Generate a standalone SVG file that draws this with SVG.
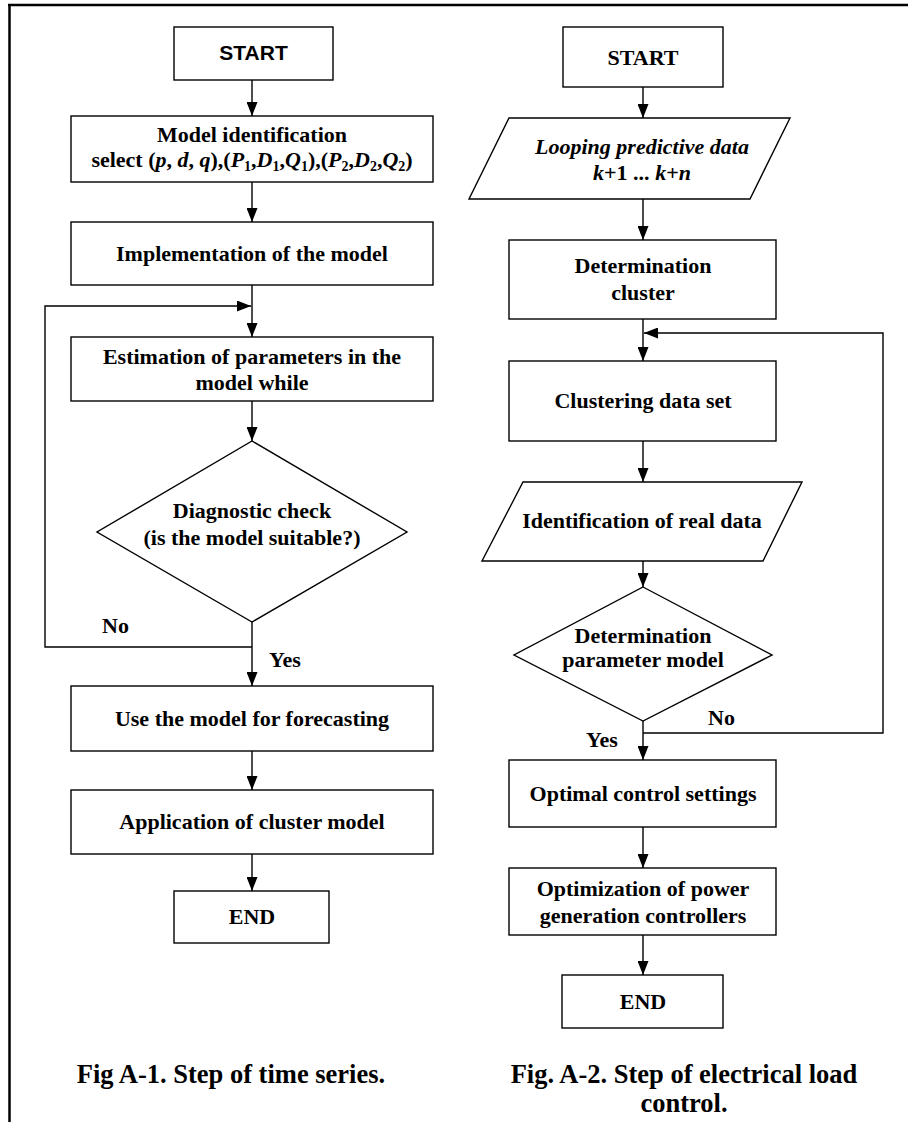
<svg xmlns="http://www.w3.org/2000/svg" width="908" height="1122" viewBox="0 0 908 1122">
<style>
.box{fill:#fff;stroke:#000;stroke-width:1.4}
.ln{fill:none;stroke:#000;stroke-width:1.4}
.t{font-family:"Liberation Serif","Times New Roman",serif;font-weight:bold;font-size:22px;text-anchor:middle;fill:#000}
.cap{font-family:"Liberation Serif","Times New Roman",serif;font-weight:bold;font-size:26.5px;text-anchor:middle;fill:#000}
.lbl{font-family:"Liberation Serif","Times New Roman",serif;font-weight:bold;font-size:22px;fill:#000}
.i{font-style:italic}
</style>
<defs>
<marker id="ah" markerUnits="userSpaceOnUse" markerWidth="15" markerHeight="11" refX="14" refY="5.5" orient="auto">
<path d="M0,0 L14,5.5 L0,11 z" fill="#000"/>
</marker>
</defs>
<rect width="908" height="1122" fill="#fff"/>
<g id="frame">
<line x1="9.5" y1="5" x2="9.5" y2="1122" stroke="#000" stroke-width="2.5"/>
<line x1="8" y1="5" x2="908" y2="5" stroke="#000" stroke-width="2.5"/>
</g>
<g id="connectors">
<line class="ln" x1="252" y1="80" x2="252" y2="116" marker-end="url(#ah)"/>
<line class="ln" x1="252" y1="182" x2="252" y2="222" marker-end="url(#ah)"/>
<line class="ln" x1="252" y1="285" x2="252" y2="337" marker-end="url(#ah)"/>
<line class="ln" x1="252" y1="401" x2="252" y2="441" marker-end="url(#ah)"/>
<line class="ln" x1="252" y1="622" x2="252" y2="686" marker-end="url(#ah)"/>
<path class="ln" d="M252,647 H45 V306 H251" marker-end="url(#ah)"/>
<line class="ln" x1="252" y1="751" x2="252" y2="790" marker-end="url(#ah)"/>
<line class="ln" x1="252" y1="854" x2="252" y2="891" marker-end="url(#ah)"/>
<line class="ln" x1="643" y1="87" x2="643" y2="118" marker-end="url(#ah)"/>
<line class="ln" x1="643" y1="199" x2="643" y2="240" marker-end="url(#ah)"/>
<line class="ln" x1="643" y1="319" x2="643" y2="361" marker-end="url(#ah)"/>
<path class="ln" d="M643,733 H883 V333 H644" marker-end="url(#ah)"/>
<line class="ln" x1="643" y1="441" x2="643" y2="482" marker-end="url(#ah)"/>
<line class="ln" x1="643" y1="561" x2="643" y2="587" marker-end="url(#ah)"/>
<line class="ln" x1="643" y1="721" x2="643" y2="760" marker-end="url(#ah)"/>
<line class="ln" x1="643" y1="827" x2="643" y2="868" marker-end="url(#ah)"/>
<line class="ln" x1="643" y1="935" x2="643" y2="975" marker-end="url(#ah)"/>
<text class="lbl" x="102" y="633">No</text>
<text class="lbl" x="269" y="667">Yes</text>
<text class="lbl" x="708" y="725">No</text>
<text class="lbl" x="586" y="747">Yes</text>
</g>
<g id="l-start">
<rect class="box" x="174" y="27" width="159" height="53"/>
<text x="253.5" y="60" font-family="Liberation Sans, Arial, sans-serif" font-weight="bold" font-size="21" text-anchor="middle">START</text>
</g>
<g id="l-model">
<rect class="box" x="71" y="116" width="362" height="66"/>
<text class="t" x="252" y="142">Model identification</text>
<text class="t" x="252" y="167">select (<tspan class="i">p</tspan>, <tspan class="i">d</tspan>, <tspan class="i">q</tspan>),(<tspan class="i">P</tspan><tspan font-size="14" dy="4">1</tspan><tspan dy="-4">,</tspan><tspan class="i">D</tspan><tspan font-size="14" dy="4">1</tspan><tspan dy="-4">,</tspan><tspan class="i">Q</tspan><tspan font-size="14" dy="4">1</tspan><tspan dy="-4">),(</tspan><tspan class="i">P</tspan><tspan font-size="14" dy="4">2</tspan><tspan dy="-4">,</tspan><tspan class="i">D</tspan><tspan font-size="14" dy="4">2</tspan><tspan dy="-4">,</tspan><tspan class="i">Q</tspan><tspan font-size="14" dy="4">2</tspan><tspan dy="-4">)</tspan></text>
</g>
<g id="l-impl">
<rect class="box" x="71" y="222" width="362" height="63"/>
<text class="t" x="252" y="261">Implementation of the model</text>
</g>
<g id="l-est">
<rect class="box" x="71" y="337" width="362" height="64"/>
<text class="t" x="252" y="364">Estimation of parameters in the</text>
<text class="t" x="252" y="390">model while</text>
</g>
<g id="l-diag">
<polygon class="box" points="252,441 407,532 252,622 97,532"/>
<text class="t" x="252" y="518">Diagnostic check</text>
<text class="t" x="252" y="545">(is the model suitable?)</text>
</g>
<g id="l-use">
<rect class="box" x="71" y="686" width="362" height="65"/>
<text class="t" x="252" y="726">Use the model for forecasting</text>
</g>
<g id="l-app">
<rect class="box" x="71" y="790" width="362" height="64"/>
<text class="t" x="252" y="829">Application of cluster model</text>
</g>
<g id="l-end">
<rect class="box" x="174" y="891" width="155" height="52"/>
<text class="t" x="252" y="924">END</text>
</g>
<g id="r-start">
<rect class="box" x="563" y="27" width="160" height="60"/>
<text class="t" x="643" y="65" font-size="25">START</text>
</g>
<g id="r-loop">
<polygon class="box" points="509,118 790,118 750,199 469,199"/>
<text class="t i" x="642" y="154">Looping predictive data</text>
<text class="t" x="642" y="180"><tspan class="i">k</tspan>+1 ... <tspan class="i">k</tspan>+<tspan class="i">n</tspan></text>
</g>
<g id="r-det">
<rect class="box" x="509" y="240" width="267" height="79"/>
<text class="t" x="643" y="273">Determination</text>
<text class="t" x="643" y="300">cluster</text>
</g>
<g id="r-clu">
<rect class="box" x="509" y="361" width="267" height="80"/>
<text class="t" x="643" y="408">Clustering data set</text>
</g>
<g id="r-ident">
<polygon class="box" points="523,482 802,482 763,561 482,561"/>
<text class="t" x="642" y="528">Identification of real data</text>
</g>
<g id="r-diag">
<polygon class="box" points="643,587 772,655 643,721 514,655"/>
<text class="t" x="643" y="643">Determination</text>
<text class="t" x="643" y="667">parameter model</text>
</g>
<g id="r-opt">
<rect class="box" x="509" y="760" width="267" height="67"/>
<text class="t" x="643" y="801">Optimal control settings</text>
</g>
<g id="r-optim">
<rect class="box" x="509" y="868" width="267" height="67"/>
<text class="t" x="643" y="896">Optimization of power</text>
<text class="t" x="643" y="923">generation controllers</text>
</g>
<g id="r-end">
<rect class="box" x="562" y="975" width="161" height="53"/>
<text class="t" x="643" y="1009">END</text>
</g>
<g id="captions">
<text class="cap" x="231" y="1083">Fig A-1. Step of time series.</text>
<text class="cap" x="684" y="1083">Fig. A-2. Step of electrical load</text>
<text class="cap" x="684" y="1112">control.</text>
</g>
</svg>
